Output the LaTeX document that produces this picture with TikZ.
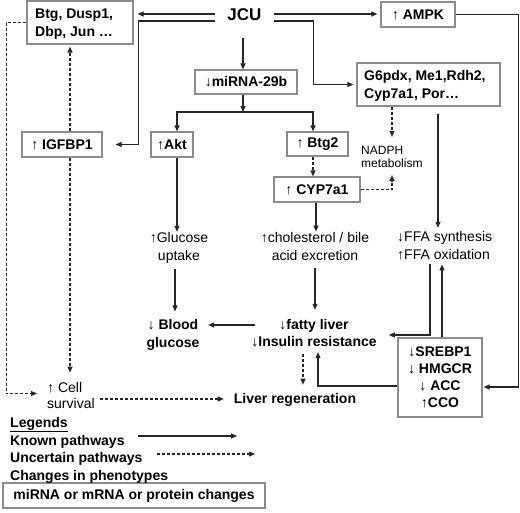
\documentclass[tikz,border=0pt]{standalone}
\usepackage{fontspec}
\setmainfont{Liberation Sans}
\usetikzlibrary{arrows.meta}
\begin{document}
\begin{tikzpicture}[x=1pt,y=-1pt,
  box/.style={draw=black!45,line width=1.2pt,inner sep=0pt,align=center,font=\bfseries\fontsize{14}{17}\selectfont},
  btxt/.style={inner sep=0pt,align=center,font=\bfseries\fontsize{14}{17.5}\selectfont},
  ptxt/.style={inner sep=0pt,align=center,font=\fontsize{14}{18}\selectfont},
  conn/.style={draw=black!85,line width=1.1pt,-{Triangle[length=6pt,width=5pt]}},
  dconn/.style={conn,dash pattern=on 3pt off 2pt}]
\fill[white] (0,0) rectangle (520,512);
\useasboundingbox (0,0) rectangle (520,512);

% boxes
\node[btxt,font=\bfseries\fontsize{17}{20}\selectfont,inner xsep=12pt,inner ysep=2pt] (jcu) at (244.5,15) {JCU};
\node[box,minimum width=106pt,minimum height=43pt] (btg) at (80,22.5) {};
\node[btxt,font=\bfseries\fontsize{14}{18}\selectfont,align=left,anchor=west] (btgtxt) at (35,24) {Btg, Dusp1,\\Dbp, Jun …};
\node[box,minimum width=80pt,minimum height=25pt] (igfbp) at (62,144.5) {↑ IGFBP1};
\node[box,minimum width=102pt,minimum height=24pt] (mir) at (246,82) {↓miRNA-29b};
\node[box,minimum width=42pt,minimum height=25pt] (akt) at (172,144.5) {↑Akt};
\node[box,minimum width=61pt,minimum height=24pt] (btg2) at (317.5,144) {↑ Btg2};
\node[box,minimum width=86pt,minimum height=25pt] (cyp) at (317,189.5) {↑ CYP7a1};
\node[box,minimum width=74pt,minimum height=25pt] (ampk) at (418,14.5) {↑ AMPK};
\node[box,minimum width=143pt,minimum height=43pt] (g6) at (428.5,84.5) {};
\node[btxt,align=left,anchor=west] (g6txt) at (364,86) {G6pdx, Me1,Rdh2,\\Cyp7a1, Por…};
\node[box,minimum width=84pt,minimum height=79pt] (srebp) at (440,377.5) {↓SREBP1\\↓ HMGCR\\↓ ACC\\↑CCO};
\node[box,minimum width=262pt,minimum height=25pt] (legbox) at (134,495.5) {miRNA or mRNA or protein changes};

% phenotype texts
\node[ptxt,font=\fontsize{12}{13}\selectfont,align=left,anchor=west] (nadph) at (361,156.5) {NADPH\\metabolism};
\node[ptxt] (gluc) at (179,247.5) {↑Glucose\\uptake};
\node[ptxt] (chol) at (315,246) {↑cholesterol / bile\\acid excretion};
\node[ptxt,align=left,anchor=west] (ffa) at (397,246) {↓FFA synthesis\\↑FFA oxidation};
\node[btxt] (blood) at (173,335) {↓ Blood\\glucose};
\node[btxt] (fatty) at (314,333) {↓fatty liver\\↓Insulin resistance};
\node[ptxt,align=left,anchor=west,font=\fontsize{14}{16}\selectfont] (cell) at (47,395) {↑ Cell\\survival};
\node[btxt,anchor=base] (regen) at (295,403) {Liver regeneration};

% legend texts
\node[btxt,anchor=base west] (leg) at (10,427) {\underline{Legends}};
\node[btxt,anchor=base west] (known) at (10,445) {Known pathways};
\node[btxt,anchor=base west] (uncert) at (10,462) {Uncertain pathways};
\node[btxt,anchor=base west] (pheno) at (10,480) {Changes in phenotypes};

% connectors from JCU
\coordinate (j1) at ([yshift=1pt]jcu.west);
\draw[conn,shorten >=4pt] (j1) -- (j1 -| btg.east);
\coordinate (j2) at ([yshift=-6pt]jcu.west);
\draw[conn,shorten >=13pt] (j2) -- ++(-77,0) |- (igfbp.east);
\coordinate (j3) at ([yshift=1pt]jcu.east);
\draw[conn,shorten >=3pt] (j3) -- (j3 -| ampk.west);
\coordinate (j4) at ([yshift=-6pt]jcu.east);
\draw[conn,shorten >=3pt] (j4) -- ++(39.5,0) |- (g6.west);
\coordinate (j5) at ([xshift=-1.5pt,yshift=-15pt]jcu.south);
\draw[conn] (j5) -- (j5 |- mir.north);

% miRNA branches
\coordinate (split) at (243,112);
\draw[conn] (split |- mir.south) -- (split);
\draw[conn] (split) -| ([xshift=5pt]akt.north);
\draw[conn] (split) -| ([xshift=-4.5pt]btg2.north);

% IGFBP1 and Btg
\coordinate (i1) at ([xshift=8pt]igfbp.north);
\draw[dconn,shorten >=2pt] (i1) -- (i1 |- btg.south);
\coordinate (i2) at ([xshift=8pt]igfbp.south);
\draw[dconn,shorten >=9pt] (i2) -- (i2 |- cell.north);
\draw[dconn,shorten >=10pt] (btg.west) -- ++(-20,0) |- ([yshift=1.5pt]cell.west);
\coordinate (c1) at ([xshift=5pt,yshift=-4pt]cell.east);
\draw[dconn,shorten >=10pt] (c1) -- (c1 -| regen.west);

% Akt branch
\coordinate (a1) at ([xshift=5pt]akt.south);
\draw[conn] (a1) -- (a1 |- gluc.north);
\coordinate (g1) at ([xshift=-4pt,yshift=-6pt]gluc.south);
\draw[conn,shorten >=8pt] (g1) -- (g1 |- blood.north);

% Btg2 branch
\coordinate (t1) at ([xshift=-4.5pt]btg2.south);
\draw[dconn] (t1) -- (t1 |- cyp.north);
\coordinate (y1) at ([xshift=-1pt]cyp.south);
\draw[conn] (y1) -- (y1 |- chol.north);
\coordinate (h1) at ([yshift=-8pt]chol.south);
\draw[conn,shorten >=9pt] (h1) -- (h1 |- fatty.north);

% NADPH
\coordinate (n1) at ([xshift=-36.5pt]g6.south);
\draw[dconn,shorten >=8.7pt] (n1) -- (n1 |- nadph.north);
\draw[dconn,shorten >=7.7pt] (cyp.east) -| (n1 |- nadph.south);

% FFA
\coordinate (g61) at ([xshift=9.5pt,yshift=-7pt]g6.south);
\draw[conn,shorten >=3.7pt] (g61) -- (g61 |- ffa.north);
\coordinate (f1) at ([xshift=33pt,yshift=-4pt]ffa.south west);
\draw[conn] (f1) |- ([xshift=12pt,yshift=-2pt]fatty.east);

% SREBP
\coordinate (s1) at ([xshift=2pt]srebp.north);
\draw[conn,shorten >=4pt] (s1) -- (s1 |- ffa.south);
\draw[conn,shorten >=5pt] ([yshift=-8.5pt]srebp.west) -| ([xshift=4pt]fatty.south);
\draw[conn,shorten >=1pt] (ampk.east) -- ++(63,0) |- ([yshift=-9.5pt]srebp.east);

% fatty liver outputs
\coordinate (r1) at ([xshift=-11pt,yshift=-7pt]fatty.south);
\draw[dconn,shorten >=8pt] (r1) -- (r1 |- regen.north);
\coordinate (b1) at ([xshift=4pt,yshift=8pt]fatty.west);
\draw[conn,shorten >=8.5pt] (b1) -- (b1 -| blood.east);

% legend arrows
\coordinate (k1) at (138,436);
\coordinate (k2) at (237,436);
\draw[conn] (k1) -- (k2);
\coordinate (u1) at (157,454);
\coordinate (u2) at (255,454);
\draw[dconn] (u1) -- (u2);
\end{tikzpicture}
\end{document}
